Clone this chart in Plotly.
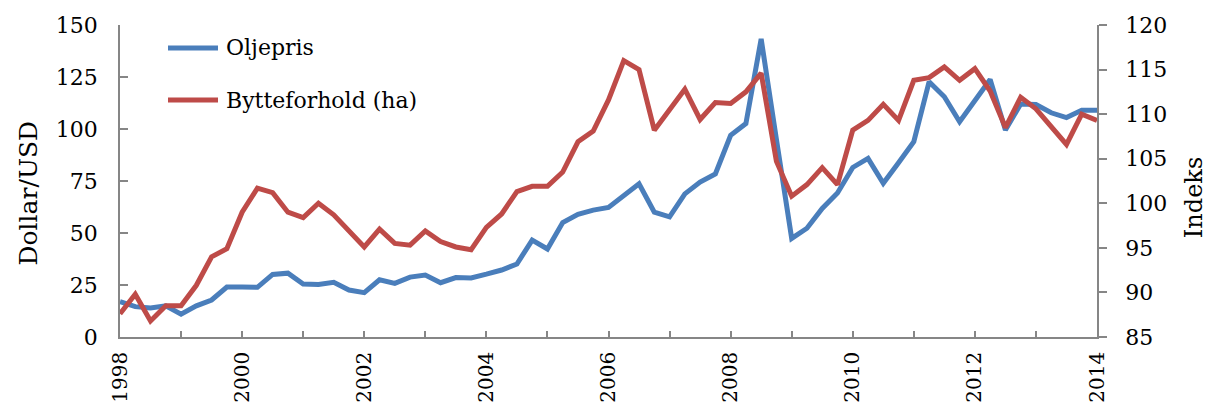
import plotly.graph_objects as go

# Quarterly observations, 1998 Q1 to 2014 Q1
quarters = [1998 + q / 4 for q in range(65)]

# Oil price, dollar per barrel (left axis)
oljepris = [
    17.0, 14.6, 14.0, 15.0, 11.0, 15.0, 17.8, 24.0,
    24.0, 23.9, 30.1, 30.7, 25.5, 25.3, 26.3, 22.6,
    21.3, 27.5, 25.8, 28.8, 29.8, 26.1, 28.6, 28.4,
    30.2, 32.2, 35.1, 46.6, 42.3, 55.0, 59.0, 61.0,
    62.3, 68.0, 73.7, 60.0, 57.8, 68.8, 74.5, 78.4,
    97.0, 102.6, 143.3, 95.0, 47.4, 52.3, 61.8, 69.2,
    81.5, 85.9, 73.9, 83.8, 93.9, 122.7, 115.5, 103.5,
    113.3, 123.8, 99.5, 112.0, 111.8, 107.8, 105.5, 109.0,
    109.0,
]

# Terms of trade index (right axis)
bytteforhold = [
    87.6, 89.8, 86.8, 88.5, 88.5, 90.8, 94.0, 94.9,
    99.0, 101.7, 101.2, 99.0, 98.4, 100.0, 98.7, 96.8,
    95.1, 97.1, 95.5, 95.3, 96.9, 95.7, 95.1, 94.8,
    97.3, 98.8, 101.3, 101.9, 101.9, 103.5, 106.9, 108.1,
    111.6, 116.0, 115.0, 108.2, 110.6, 112.8, 109.4, 111.3,
    111.2, 112.5, 114.6, 104.7, 100.8, 102.1, 104.0, 102.1,
    108.2, 109.3, 111.1, 109.3, 113.8, 114.1, 115.3, 113.8,
    115.1, 112.6, 108.5, 111.9, 110.6, 108.7, 106.6, 110.0,
    109.3,
]

series_names = ["Oljepris", "Bytteforhold (ha)"]
blue = "#4A7EBB"
red = "#BE4B48"
axis_grey = "#868686"
font_family = "DejaVu Serif"

W, H = 1211, 411
ML, MR, MT, MB = 120, 114, 25, 74
plot_w = W - ML - MR
plot_h = H - MT - MB

fig = go.Figure()
fig.add_trace(go.Scatter(
    x=quarters, y=oljepris, name=series_names[0], mode="lines",
    line=dict(color=blue, width=5), yaxis="y", showlegend=False,
))
fig.add_trace(go.Scatter(
    x=quarters, y=bytteforhold, name=series_names[1], mode="lines",
    line=dict(color=red, width=5), yaxis="y2", showlegend=False,
))

tick_font = dict(family=font_family, size=22, color="black")

fig.update_layout(
    template="none",
    width=W, height=H,
    margin=dict(l=ML, r=MR, t=MT, b=MB, pad=0),
    paper_bgcolor="white", plot_bgcolor="white",
    font=dict(family=font_family, color="black"),
    xaxis=dict(
        range=[1998, 2014], tick0=1998, dtick=2, tickformat="d",
        tickangle=-90, tickfont=dict(family=font_family, size=20, color="black"),
        automargin=False,
        ticks="inside", ticklen=6, tickwidth=1.5, tickcolor=axis_grey,
        minor=dict(dtick=1, tick0=1998, ticks="inside", ticklen=6,
                   tickwidth=1.5, tickcolor=axis_grey),
        showline=True, linecolor=axis_grey, linewidth=1.5,
        showgrid=False, zeroline=False, ticklabelstandoff=5,
    ),
    yaxis=dict(
        range=[0, 150], dtick=25, tickfont=tick_font, automargin=False,
        ticks="inside", ticklen=8, tickwidth=1.5, tickcolor=axis_grey,
        showline=True, linecolor=axis_grey, linewidth=1.5,
        showgrid=False, zeroline=False, ticklabelstandoff=16,
    ),
    yaxis2=dict(
        range=[85, 120], dtick=5, tickfont=tick_font, overlaying="y",
        side="right", anchor="x", automargin=False,
        ticks="outside", ticklen=8, tickwidth=1.5, tickcolor=axis_grey,
        showline=True, linecolor=axis_grey, linewidth=1.5,
        showgrid=False, zeroline=False, ticklabelstandoff=14,
    ),
)

# Axis titles
fig.add_annotation(
    text="Dollar/USD", xref="paper", yref="paper",
    x=(28 - ML) / plot_w, y=0.46, textangle=-90, showarrow=False,
    font=dict(family=font_family, size=25), xanchor="center", yanchor="middle",
)
fig.add_annotation(
    text="Indeks", xref="paper", yref="paper",
    x=(1194 - ML) / plot_w, y=0.445, textangle=-90, showarrow=False,
    font=dict(family=font_family, size=24), xanchor="center", yanchor="middle",
)

# Legend drawn as line samples with labels
legend_rows = [(48, blue, series_names[0]), (100, red, series_names[1])]
for y_px, col, label in legend_rows:
    yp = (MT + plot_h - y_px) / plot_h
    fig.add_shape(
        type="line", xref="paper", yref="paper",
        x0=(168 - ML) / plot_w, x1=(218 - ML) / plot_w, y0=yp, y1=yp,
        line=dict(color=col, width=5),
    )
    fig.add_annotation(
        text=label, xref="paper", yref="paper",
        x=(224 - ML) / plot_w, y=yp, showarrow=False,
        xanchor="left", yanchor="middle",
        font=dict(family=font_family, size=22, color="black"),
    )

fig.write_html("out.html")
